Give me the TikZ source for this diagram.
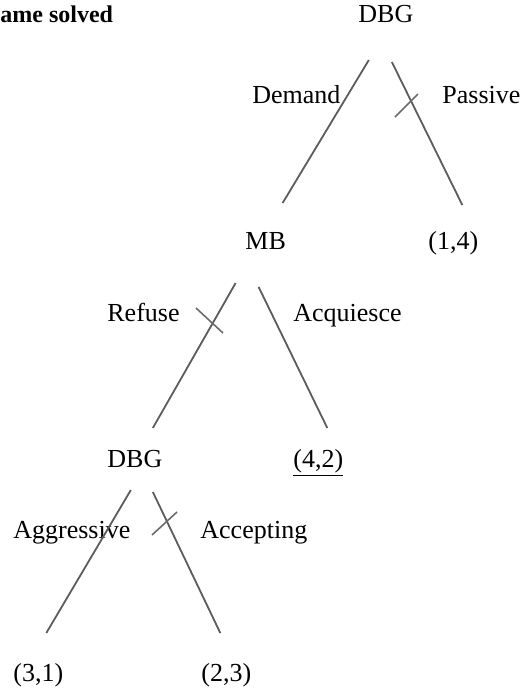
\documentclass[tikz,border=0pt]{standalone}
\usepackage{fontspec}
\setmainfont{Liberation Serif}
\begin{document}
\begin{tikzpicture}
    [x=0.5pt, y=-0.5pt, inner sep=0pt,
     player/.style={anchor=base west, font=\fontsize{13}{15}\selectfont},
     outcome/.style={player},
     move/.style={player},
     branch/.style={draw=black!64, line width=0.9pt},
     cut/.style={draw=black!58, line width=0.8pt}]
    \useasboundingbox (0,0) rectangle (528,692);
    \node (T) at (0,22) [player, font=\fontsize{12}{15}\selectfont\bfseries] {ame solved};
    \node (D1) at (358,22) [player] {DBG};
    \node (MB) at (245,249) [player] {MB};
    \node (O14) at (428,249) [outcome] {(1,4)};
    \node (D2) at (107,467) [player] {DBG};
    \node (O42) at (293,467) [outcome] {\underline{(4,2)}};
    \node (O31) at (13,681) [outcome] {(3,1)};
    \node (O23) at (201,681) [outcome] {(2,3)};
    \node (Dem) at (252,103) [move] {Demand};
    \node (Pas) at (442,103) [move] {Passive};
    \node (Ref) at (107,321) [move] {Refuse};
    \node (Acq) at (293,321) [move] {Acquiesce};
    \node (Agg) at (13,538) [move] {Aggressive};
    \node (Acc) at (200,538) [move] {Accepting};
    \draw [branch] ([shift={(-17,38)}]D1.base) -- ([shift={(17,-46)}]MB.base);
    \draw [branch] ([shift={(6,40)}]D1.base) -- ([shift={(9,-44)}]O14.base);
    \draw [branch] ([shift={(-30,34)}]MB.base) -- ([shift={(18,-39)}]D2.base);
    \draw [branch] ([shift={(-7,38)}]MB.base) -- ([shift={(9,-39)}]O42.base);
    \draw [branch] ([shift={(-4,23)}]D2.base) -- ([shift={(8,-48)}]O31.base);
    \draw [branch] ([shift={(18,25)}]D2.base) -- ([shift={(-6,-48)}]O23.base);
    \draw [cut] (395,117) -- (418,94);
    \draw [cut] (196,308) -- (223,333);
    \draw [cut] (152,535) -- (177,512);
\end{tikzpicture}
\end{document}
